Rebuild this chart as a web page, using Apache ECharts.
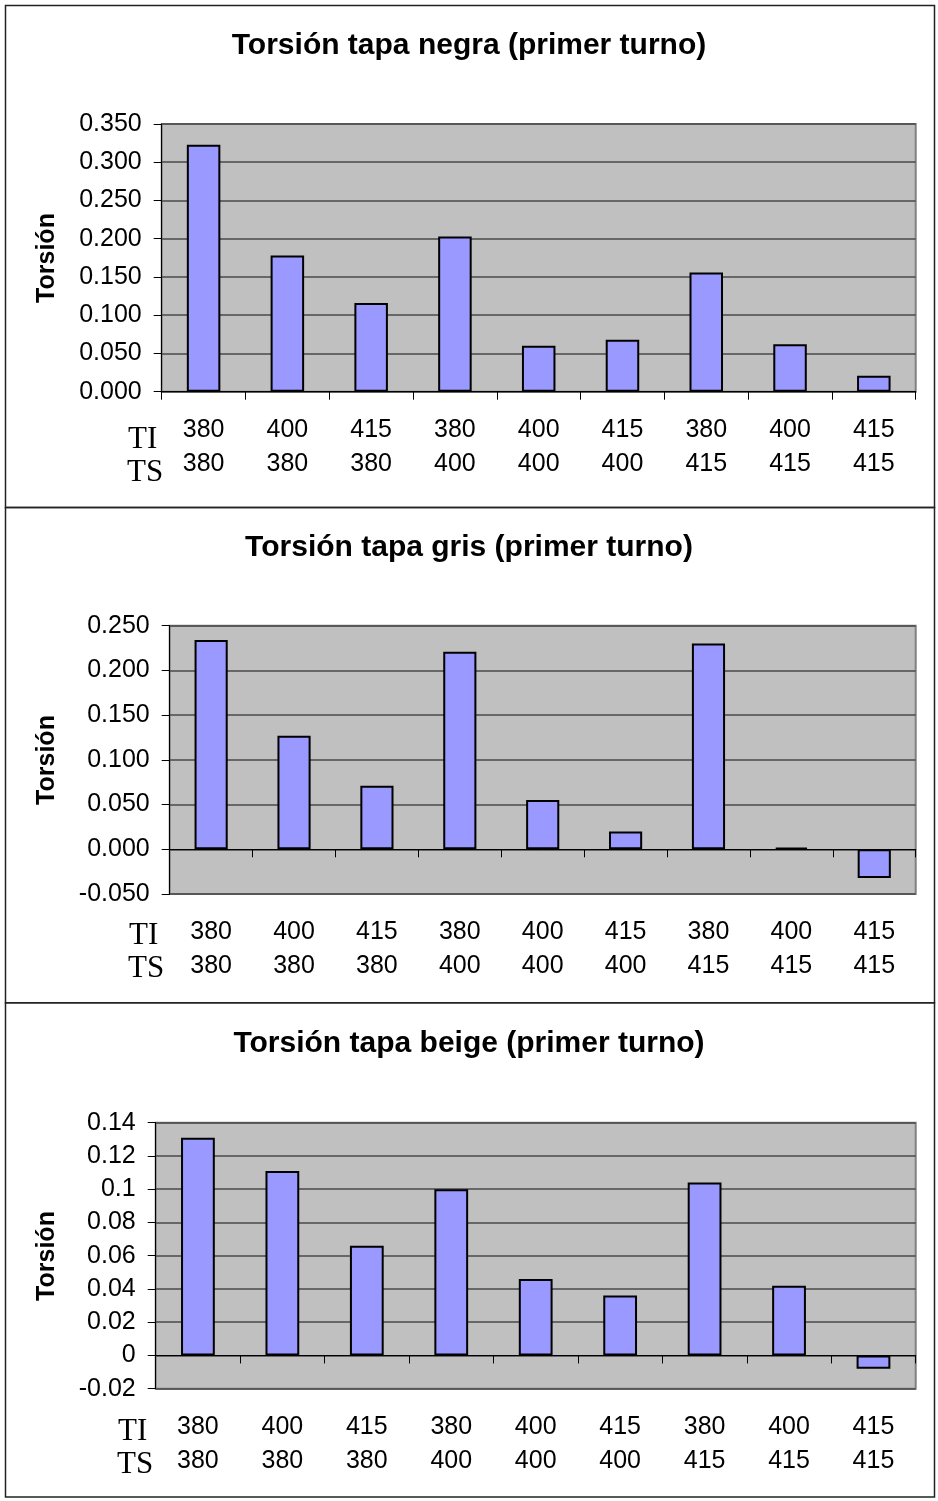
<!DOCTYPE html>
<html>
<head>
<meta charset="utf-8">
<script src="https://cdn.jsdelivr.net/npm/echarts@6/dist/echarts.min.js"></script>
<style>
  html, body { margin: 0; padding: 0; background: #fff; }
  #chart { width: 938px; height: 1501px; }
</style>
</head>
<body>
<div id="chart"></div>
<script>
// Categories: inlet temperature (TI) over outlet temperature (TS)
const TI = ['380', '400', '415', '380', '400', '415', '380', '400', '415'];
const TS = ['380', '380', '380', '400', '400', '400', '415', '415', '415'];

// Chart titles
const titles = [
  'Torsión tapa negra (primer turno)',
  'Torsión tapa gris (primer turno)',
  'Torsión tapa beige (primer turno)'
];

// Torsion values per cap colour
const negra = [0.323, 0.178, 0.116, 0.203, 0.060, 0.068, 0.156, 0.062, 0.021];
const gris  = [0.234, 0.127, 0.071, 0.221, 0.055, 0.020, 0.230, 0.002, -0.032];
const beige = [0.131, 0.111, 0.066, 0.100, 0.046, 0.036, 0.104, 0.042, -0.008];

// Value axis ranges
const yMin = [0, -0.05, -0.02];
const yMax = [0.35, 0.25, 0.14];
const yStep = [0.05, 0.05, 0.02];

const seriesData = [negra, gris, beige];
const categories = TI.map((t, i) => t + '\n' + TS[i]);

const SANS = "'Liberation Sans', Arial, sans-serif";
const SERIF = "'Liberation Serif', 'Times New Roman', serif";

// Panel layout (plot area boxes and panel frames)
const panels = [
  { top: 0, bottom: 507.5, gLeft: 161.7, gTop: 124, gH: 267.7, titleY: 44, nameY: 258, tiX: 128, tiY: 440 },
  { top: 507.5, bottom: 1002.7, gLeft: 169.7, gTop: 625.7, gH: 268.3, titleY: 546, nameY: 760, tiX: 129, tiY: 936 },
  { top: 1002.7, bottom: 1497, gLeft: 155.7, gTop: 1122.7, gH: 266, titleY: 1042, nameY: 1256, tiX: 118, tiY: 1432 }
];

const grids = [], xAxes = [], yAxes = [], series = [], titleList = [], graphics = [];

panels.forEach((p, i) => {
  grids.push({
    left: p.gLeft, right: 938 - 915.7, top: p.gTop, height: p.gH,
    show: true, backgroundColor: '#C0C0C0', borderColor: '#808080', borderWidth: 2
  });

  // Category labels below the plot area
  xAxes.push({
    type: 'category', gridIndex: i, data: categories, position: 'bottom',
    axisLine: { show: false, onZero: false }, axisTick: { show: false },
    axisLabel: { interval: 0, fontFamily: SANS, fontSize: 25, lineHeight: 34, color: '#000', margin: 21 },
    splitLine: { show: false }
  });
  // Category axis line drawn at zero
  xAxes.push({
    type: 'category', gridIndex: i, data: categories, position: 'top',
    axisLine: { show: true, onZero: true, lineStyle: { color: '#000', width: 1 } },
    axisTick: { show: true, inside: true, length: 8, lineStyle: { color: '#000', width: 1 } },
    axisLabel: { show: false }, splitLine: { show: false }
  });

  yAxes.push({
    type: 'value', gridIndex: i, min: yMin[i], max: yMax[i], interval: yStep[i],
    axisLine: { show: true, lineStyle: { color: '#000', width: 1 } },
    axisTick: { show: true, length: 8, lineStyle: { color: '#000', width: 1 } },
    axisLabel: {
      fontFamily: SANS, fontSize: 25, color: '#000', margin: 20,
      formatter: v => i < 2 ? v.toFixed(3) : String(parseFloat(v.toFixed(2)))
    },
    splitLine: { show: true, lineStyle: { color: '#4a4a4a', width: 1.5 } }
  });

  series.push({
    type: 'bar', xAxisIndex: i * 2, yAxisIndex: i, data: seriesData[i],
    barWidth: '40%',
    itemStyle: { color: '#9999FF', borderColor: '#000', borderWidth: 2 },
    animation: false
  });

  titleList.push({
    text: titles[i], left: 'center', top: p.titleY - 13, padding: 0,
    textStyle: { fontFamily: SANS, fontSize: 30, fontWeight: 'bold', color: '#000' }
  });

  // Panel frame
  graphics.push({
    type: 'rect', shape: { x: 5.5, y: Math.max(p.top, 5.5), width: 929, height: p.bottom - Math.max(p.top, 5.5) },
    style: { fill: null, stroke: '#222', lineWidth: 1.5 }, silent: true, z: 0
  });
  // Value axis name
  graphics.push({
    type: 'text', x: 47, y: p.nameY, rotation: Math.PI / 2,
    style: { text: 'Torsión', font: 'bold 25px ' + SANS, fill: '#000', textAlign: 'center', textVerticalAlign: 'middle' },
    silent: true
  });
  // Row headers for the two category lines
  graphics.push({
    type: 'text', x: p.tiX, y: p.tiY,
    style: { text: 'TI', font: '31px ' + SERIF, fill: '#000', textAlign: 'left', textVerticalAlign: 'middle' },
    silent: true
  });
  graphics.push({
    type: 'text', x: p.tiX - 1, y: p.tiY + 33,
    style: { text: 'TS', font: '31px ' + SERIF, fill: '#000', textAlign: 'left', textVerticalAlign: 'middle' },
    silent: true
  });
});

const chart = echarts.init(document.getElementById('chart'), null, { renderer: 'canvas' });
chart.setOption({
  animation: false,
  backgroundColor: '#fff',
  title: titleList,
  grid: grids,
  xAxis: xAxes,
  yAxis: yAxes,
  series: series,
  graphic: graphics
});
</script>
</body>
</html>
